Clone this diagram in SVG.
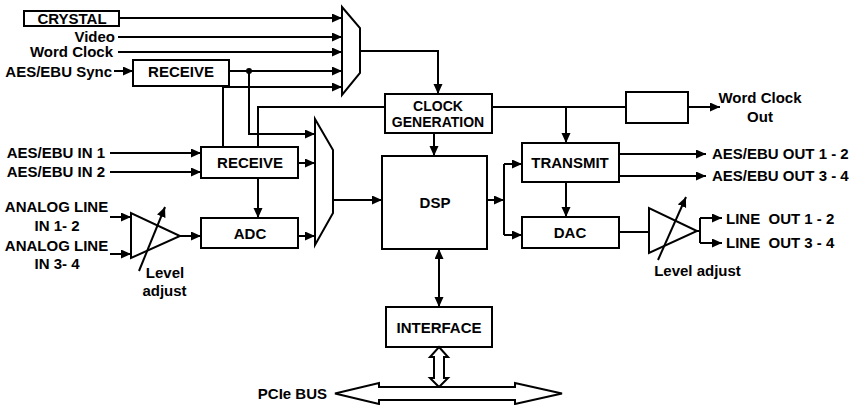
<svg xmlns="http://www.w3.org/2000/svg" width="857" height="405" viewBox="0 0 857 405">
<style>
.b{fill:#fff;stroke:#000;stroke-width:2}
.n{fill:none;stroke:#000;stroke-width:2}
.t{font-family:"Liberation Sans",Arial,sans-serif;font-weight:bold;font-size:15px;fill:#000}
.m{text-anchor:middle}
.e{text-anchor:end}
.c path,.c line{fill:none;stroke:#000;stroke-width:2}
.a{marker-end:url(#ah)}
</style>
<defs>
<marker id="ah" markerUnits="userSpaceOnUse" markerWidth="11" markerHeight="10" refX="10" refY="4.5" orient="auto-start-reverse" viewBox="0 0 11 10">
<path d="M0,0 L10,4.5 L0,9 z" fill="#000"/>
</marker>
</defs>
<rect width="857" height="405" fill="#fff"/>

<g id="connectors" class="c">
<path class="a" d="M119,18 H342"/>
<path class="a" d="M118,37 H342"/>
<path class="a" d="M118,52 H342"/>
<path class="a" d="M114,71 H133"/>
<path class="a" d="M229,71 H342"/>
<path class="a" d="M249,71 V134 H315"/>
<path class="a" d="M223,147 V87 H342"/>
<path d="M385,107 H258 V147"/>
<path class="a" d="M360,51 H438 V94"/>
<path class="a" d="M434,133 V156"/>
<path d="M492,107 H626"/>
<path class="a" d="M566,107 V143"/>
<path class="a" d="M688,107 H720"/>
<path class="a" d="M110,153 H201"/>
<path class="a" d="M110,172 H201"/>
<path class="a" d="M298,163 H315"/>
<path class="a" d="M258,178 V218"/>
<path class="a" d="M298,236 H315"/>
<path class="a" d="M110,217 H131"/>
<path class="a" d="M110,254 H131"/>
<path class="a" d="M180,236 H201"/>
<path class="a" d="M139,271 L165,207"/>
<path class="a" d="M333,200 H382"/>
<path class="a" d="M487,200 H504"/>
<path d="M504,164 V235"/>
<path class="a" d="M504,164 H522"/>
<path class="a" d="M504,235 H522"/>
<path class="a" d="M566,182 V217"/>
<path class="a" d="M619,154 H706"/>
<path class="a" d="M619,176 H706"/>
<path d="M619,232 H649"/>
<path d="M697,231 H700 M700,218 V243"/>
<path class="a" d="M700,218 H722"/>
<path class="a" d="M700,243 H722"/>
<path class="a" d="M658,260 L686,197"/>
<path class="a" d="M439,249 V307" marker-start="url(#ah)"/>
<circle cx="249" cy="71" r="3" fill="#000" stroke="none"/>
</g>

<g id="crystal"><rect class="b" x="24" y="11" width="95" height="15"/><text class="t m" x="72" y="23.5">CRYSTAL</text></g>
<g id="lbl-video"><text class="t e" x="115" y="42">Video</text></g>
<g id="lbl-wordclock"><text class="t e" x="113" y="57">Word Clock</text></g>
<g id="lbl-sync"><text class="t e" x="112" y="76.5">AES/EBU Sync</text></g>
<g id="receive-sync"><rect class="b" x="133" y="60" width="96" height="26"/><text class="t m" x="181" y="77">RECEIVE</text></g>
<g id="mux-top"><polygon class="b" points="342,7 360,28 360,73 342,95"/></g>
<g id="lbl-in1"><text class="t e" x="105" y="158">AES/EBU IN 1</text></g>
<g id="lbl-in2"><text class="t e" x="105" y="177">AES/EBU IN 2</text></g>
<g id="receive-in"><rect class="b" x="201" y="147" width="97" height="31"/><text class="t m" x="250" y="167.5">RECEIVE</text></g>
<g id="lbl-analog1"><text class="t m" x="56.5" y="212">ANALOG LINE</text><text class="t m" x="57" y="231">IN 1- 2</text></g>
<g id="lbl-analog2"><text class="t m" x="56.5" y="251">ANALOG LINE</text><text class="t m" x="57" y="269">IN 3- 4</text></g>
<g id="amp-in"><polygon class="n" points="131,213 131,258 180,236"/><text class="t m" x="165" y="278">Level</text><text class="t m" x="164.5" y="296">adjust</text></g>
<g id="adc"><rect class="b" x="201" y="218" width="97" height="30"/><text class="t m" x="250" y="239">ADC</text></g>
<g id="mux-bottom"><polygon class="b" points="315,119 333,150 333,213 315,245"/></g>
<g id="clockgen"><rect class="b" x="385" y="94" width="107" height="39"/><text class="t m" x="438" y="110.5" style="font-size:14px">CLOCK</text><text class="t m" x="438" y="126.5" style="font-size:14px">GENERATION</text></g>
<g id="dsp"><rect class="b" x="382" y="156" width="105" height="93"/><text class="t m" x="435" y="207.5">DSP</text></g>
<g id="transmit"><rect class="b" x="522" y="143" width="97" height="39"/><text class="t m" x="570" y="168">TRANSMIT</text></g>
<g id="dac"><rect class="b" x="522" y="217" width="97" height="31"/><text class="t m" x="570" y="238">DAC</text></g>
<g id="wc-box"><rect class="b" x="626" y="92" width="62" height="31"/></g>
<g id="lbl-wcout"><text class="t m" x="760" y="103">Word Clock</text><text class="t m" x="760" y="121.5">Out</text></g>
<g id="lbl-aesout"><text class="t" x="712" y="159">AES/EBU OUT 1 - 2</text><text class="t" x="712" y="181">AES/EBU OUT 3 - 4</text></g>
<g id="amp-out"><polygon class="n" points="649,208 649,253 697,231"/><text class="t m" x="697.5" y="276">Level adjust</text></g>
<g id="lbl-lineout"><text class="t" x="726" y="224" xml:space="preserve" style="white-space:pre">LINE  OUT 1 - 2</text><text class="t" x="726" y="248" xml:space="preserve" style="white-space:pre">LINE  OUT 3 - 4</text></g>
<g id="interface"><rect class="b" x="386" y="307" width="106" height="40"/><text class="t m" x="439" y="333">INTERFACE</text></g>
<g id="bus-link"><polygon class="b" points="439,347 448,357 444,357 444,378 448,378 439,387 430,378 434,378 434,357 430,357"/></g>
<g id="pcie-bus"><polygon class="b" points="335,393.5 379,383 379,387 515,387 515,383 562,393.5 515,404 515,400 379,400 379,404"/><text class="t e" x="327" y="398.5">PCIe BUS</text></g>
</svg>
